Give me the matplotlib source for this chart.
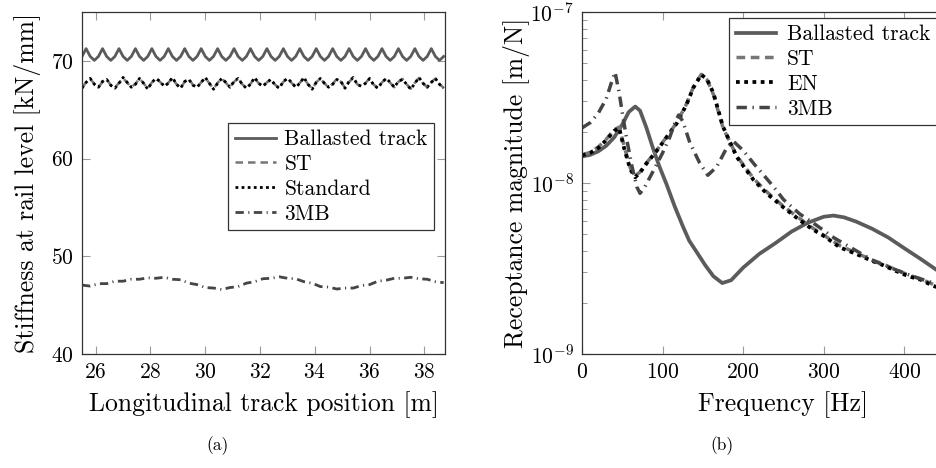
import numpy as np
import matplotlib
matplotlib.use("Agg")
import matplotlib.pyplot as plt
from matplotlib.ticker import LogLocator, NullFormatter

plt.rcParams['font.family'] = ['cmr10', 'DejaVu Serif']
plt.rcParams['mathtext.fontset'] = 'cm'
plt.rcParams['axes.formatter.use_mathtext'] = True

# ---- (a) stiffness along the track ----
# sample positions, 0.15 m apart
pos = np.linspace(25.5, 38.7, 89)

ballasted_k = [70.45, 71.25, 70.45, 70.05] * 22 + [70.45]

standard_k = [
    67.2, 67.8, 68.2, 67.6, 67.3, 67.9, 68.1, 67.5, 67.2, 67.7, 68.3, 67.8,
    67.3, 67.6, 68.2, 67.7, 67.1, 67.8, 68.2, 67.9, 67.4, 67.7, 68.3, 67.6,
    67.2, 67.9, 68.1, 67.5, 67.3, 67.8, 68.3, 67.7, 67.1, 67.7, 68.2, 67.8,
    67.3, 67.9, 68.2, 67.6, 67.2, 67.6, 68.3, 67.7, 67.4, 67.8, 68.1, 67.5,
    67.2, 67.9, 68.2, 67.8, 67.3, 67.7, 68.3, 67.6, 67.1, 67.8, 68.2, 67.7,
    67.3, 67.6, 68.1, 67.9, 67.2, 67.9, 68.3, 67.6, 67.4, 67.7, 68.2, 67.5,
    67.2, 67.8, 68.2, 67.8, 67.3, 67.9, 68.1, 67.6, 67.1, 67.7, 68.3, 67.7,
    67.3, 67.8, 68.2, 67.6, 67.2,
]

st_k = [
    67.25, 67.8, 68.15, 67.65, 67.3, 67.85, 68.15, 67.5, 67.25, 67.75, 68.25, 67.75,
    67.3, 67.65, 68.2, 67.7, 67.15, 67.8, 68.15, 67.85, 67.35, 67.75, 68.25, 67.6,
    67.25, 67.85, 68.15, 67.55, 67.3, 67.8, 68.25, 67.7, 67.15, 67.75, 68.2, 67.75,
    67.3, 67.85, 68.2, 67.6, 67.25, 67.65, 68.25, 67.7, 67.35, 67.8, 68.15, 67.55,
    67.25, 67.85, 68.2, 67.75, 67.3, 67.75, 68.25, 67.6, 67.15, 67.8, 68.2, 67.7,
    67.3, 67.65, 68.15, 67.85, 67.25, 67.85, 68.25, 67.6, 67.35, 67.75, 68.2, 67.55,
    67.25, 67.8, 68.15, 67.75, 67.3, 67.85, 68.15, 67.6, 67.15, 67.75, 68.25, 67.7,
    67.3, 67.8, 68.2, 67.6, 67.25,
]

# 3MB sampled every 0.3 m
pos_3mb = np.linspace(25.5, 38.7, 45)
mb3_k = [
    47.05, 46.95, 47.2, 47.2, 47.45, 47.45, 47.65, 47.65, 47.8, 47.75, 47.85, 47.65,
    47.6, 47.25, 47.1, 46.8, 46.75, 46.6, 46.8, 46.9, 47.25, 47.4, 47.7, 47.75,
    47.9, 47.75, 47.7, 47.4, 47.25, 46.9, 46.85, 46.65, 46.75, 46.75, 47.0, 47.1,
    47.45, 47.55, 47.75, 47.75, 47.85, 47.7, 47.65, 47.4, 47.3,
]

# ---- (b) receptance ----
f_ball = [0, 10, 20, 30, 40, 50, 58, 66, 72, 80, 88, 96, 105, 115, 125, 133, 143,
          153, 163, 174, 185, 200, 220, 240, 260, 280, 300, 312, 325, 340, 360,
          380, 400, 420, 440, 460]
r_ball = [1.43e-8, 1.46e-8, 1.53e-8, 1.65e-8, 1.85e-8, 2.2e-8, 2.6e-8, 2.8e-8,
          2.65e-8, 2.1e-8, 1.6e-8, 1.25e-8, 9.8e-9, 7.3e-9, 5.6e-9, 4.6e-9, 3.9e-9,
          3.3e-9, 2.85e-9, 2.6e-9, 2.7e-9, 3.2e-9, 3.85e-9, 4.45e-9, 5.2e-9,
          5.85e-9, 6.35e-9, 6.45e-9, 6.3e-9, 5.95e-9, 5.4e-9, 4.8e-9, 4.15e-9,
          3.6e-9, 3.1e-9, 2.7e-9]

f_en = [0, 10, 20, 30, 40, 46, 53, 60, 66, 72, 80, 93, 105, 118, 130, 138, 148,
        155, 163, 175, 192, 213, 229, 250, 270, 285, 300, 320, 340, 360, 374,
        390, 405, 420, 436, 450]
r_en = [1.45e-8, 1.5e-8, 1.6e-8, 1.78e-8, 2.02e-8, 2.1e-8, 1.55e-8, 1.2e-8,
        1.08e-8, 1.15e-8, 1.3e-8, 1.55e-8, 1.85e-8, 2.25e-8, 2.9e-8, 3.6e-8,
        4.3e-8, 4.05e-8, 3.36e-8, 2.13e-8, 1.42e-8, 1.04e-8, 8.7e-9, 7.2e-9,
        6.07e-9, 5.4e-9, 4.9e-9, 4.2e-9, 3.85e-9, 3.5e-9, 3.3e-9, 3.05e-9,
        2.85e-9, 2.72e-9, 2.5e-9, 2.38e-9]
r_st = [1.46e-8, 1.51e-8, 1.62e-8, 1.8e-8, 2.05e-8, 2.12e-8, 1.6e-8, 1.22e-8,
        1.1e-8, 1.16e-8, 1.31e-8, 1.56e-8, 1.86e-8, 2.27e-8, 2.92e-8, 3.62e-8,
        4.32e-8, 4.02e-8, 3.3e-8, 2.1e-8, 1.44e-8, 1.06e-8, 8.9e-9, 7.3e-9,
        6.2e-9, 5.5e-9, 4.95e-9, 4.3e-9, 3.9e-9, 3.55e-9, 3.35e-9, 3.1e-9,
        2.9e-9, 2.75e-9, 2.55e-9, 2.4e-9]

f_3mb = [0, 10, 20, 30, 36, 41, 46, 51, 56, 62, 68, 72, 78, 89, 100, 109, 116,
         120, 125, 134, 146, 156, 167, 180, 188, 200, 213, 237, 250, 270, 290,
         312, 335, 362, 390, 410, 436, 450]
r_3mb = [2.1e-8, 2.25e-8, 2.55e-8, 3.1e-8, 3.8e-8, 4.45e-8, 3.4e-8, 2.4e-8,
         1.75e-8, 1.25e-8, 9.5e-9, 8.7e-9, 9.5e-9, 1.19e-8, 1.5e-8, 1.86e-8,
         2.3e-8, 2.5e-8, 2.3e-8, 1.71e-8, 1.31e-8, 1.11e-8, 1.24e-8, 1.62e-8,
         1.75e-8, 1.55e-8, 1.3e-8, 9.6e-9, 8.0e-9, 6.6e-9, 5.7e-9, 4.8e-9,
         4.15e-9, 3.5e-9, 3.1e-9, 2.85e-9, 2.6e-9, 2.45e-9]

c_ball = '#5b5b5b'
c_st = '#767676'
c_3mb = '#454545'
dashdot = (0, (3.0, 1.6, 0.4, 1.6))


def style_axes(ax):
    for s in ax.spines.values():
        s.set_color('#333333')
        s.set_linewidth(0.9)
    ax.tick_params(which='both', direction='in', top=True, right=True,
                   color='#9a9a9a', labelsize=15.5, pad=6)
    ax.tick_params(which='major', length=6, width=0.8)
    ax.tick_params(which='minor', length=3.5, width=0.7)


fig = plt.figure(figsize=(9.36, 4.68), dpi=100)
ax1 = fig.add_axes([82 / 936, 114 / 468, 363 / 936, 342 / 468])
ax2 = fig.add_axes([582 / 936, 114 / 468, 403 / 936, 342 / 468])

# (a)
ax1.plot(pos, ballasted_k, color=c_ball, lw=2.0, label='Ballasted track')
ax1.plot(pos, st_k, color=c_st, lw=1.8, ls=(0, (3, 2)), label='ST')
ax1.plot(pos, standard_k, color='black', lw=2.0, ls=(0, (1, 1.2)), label='Standard')
ax1.plot(pos_3mb, mb3_k, color=c_3mb, lw=2.0, ls=dashdot, label='3MB')
ax1.set_xlim(25.5, 38.75)
ax1.set_ylim(40, 75)
ax1.set_xticks(np.arange(26, 39, 2))
ax1.set_yticks([40, 50, 60, 70])
ax1.set_xlabel('Longitudinal track position [m]', fontsize=18.5, labelpad=7)
ax1.set_ylabel('Stiffness at rail level [kN/mm]', fontsize=18.5, labelpad=7)
style_axes(ax1)
leg1 = ax1.legend(loc='upper right', bbox_to_anchor=(0.97, 0.675), fontsize=15.5,
                  fancybox=False, edgecolor='#333333', framealpha=1,
                  handlelength=1.9, handletextpad=0.4, labelspacing=0.25,
                  borderpad=0.3, borderaxespad=0)
leg1.get_frame().set_linewidth(0.9)

# (b)
ax2.plot(f_ball, r_ball, color=c_ball, lw=2.7, label='Ballasted track')
ax2.plot(f_en, r_st, color=c_st, lw=2.5, ls=(0, (2.5, 1.6)), label='ST')
ax2.plot(f_en, r_en, color='black', lw=2.7, ls=(0, (1, 1.2)), label='EN')
ax2.plot(f_3mb, r_3mb, color=c_3mb, lw=2.5, ls=dashdot, label='3MB')
ax2.set_yscale('log')
ax2.set_xlim(0, 500)
ax2.set_ylim(1e-9, 1e-7)
ax2.set_xticks([0, 100, 200, 300, 400])
ax2.yaxis.set_minor_locator(LogLocator(base=10, subs=np.arange(2, 10)))
ax2.yaxis.set_minor_formatter(NullFormatter())
ax2.set_xlabel('Frequency [Hz]', fontsize=18.5, labelpad=7)
ax2.set_ylabel('Receptance magnitude [m/N]', fontsize=18.5, labelpad=0)
style_axes(ax2)
leg2 = ax2.legend(loc='upper left', bbox_to_anchor=(0.365, 0.982), fontsize=15.5,
                  fancybox=False, edgecolor='#333333', framealpha=1,
                  handlelength=1.9, handletextpad=0.5, labelspacing=0.25,
                  borderpad=0.3, borderaxespad=0)
leg2.get_frame().set_linewidth(0.9)

fig.text(218 / 936, 1 - 446 / 468, '(a)', fontsize=12.5, ha='center', va='center')
fig.text(722 / 936, 1 - 446 / 468, '(b)', fontsize=12.5, ha='center', va='center')

fig.savefig('out.png', dpi=100)
